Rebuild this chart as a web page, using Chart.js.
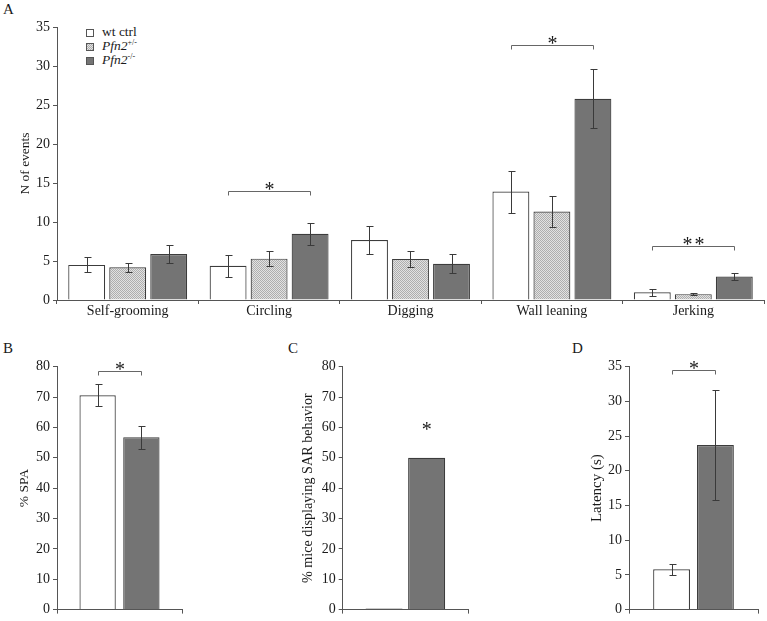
<!DOCTYPE html>
<html>
<head>
<meta charset="utf-8">
<script src="https://cdn.jsdelivr.net/npm/chart.js@4"></script>
<style>
  body { margin: 0; background: #fff; width: 767px; height: 621px; position: relative; overflow: hidden;
         font-family: "Liberation Serif", "Times New Roman", serif; color: #1a1a1a; }
  canvas { position: absolute; }
  .panel { position: absolute; font-size: 15px; line-height: 15px; }
  #legend { position: absolute; left: 86px; top: 25px; font-size: 13.5px; line-height: 14px; }
  #legend div { height: 14px; white-space: nowrap; }
  .sw { display: inline-block; width: 6px; height: 6px; border: 1px solid #555; margin-right: 8px; vertical-align: -1px; }
  sup { font-size: 8px; vertical-align: 5px; line-height: 0; }
</style>
</head>
<body>
<div class="panel" style="left:3px;top:2px">A</div>
<div class="panel" style="left:3px;top:341px">B</div>
<div class="panel" style="left:288px;top:341px">C</div>
<div class="panel" style="left:572px;top:341px">D</div>
<div id="legend">
  <div><span class="sw" style="background:#fff"></span>wt ctrl</div>
  <div><span class="sw" id="swHet"></span><i>Pfn2</i><sup>+/-</sup></div>
  <div><span class="sw" style="background:#747474"></span><i>Pfn2</i><sup>-/-</sup></div>
</div>
<canvas id="chartA" width="767" height="322" style="left:0;top:0"></canvas>
<canvas id="chartB" width="250" height="299" style="left:0;top:322px"></canvas>
<canvas id="chartC" width="260" height="299" style="left:250px;top:322px"></canvas>
<canvas id="chartD" width="257" height="299" style="left:510px;top:322px"></canvas>
<script>
// ---- datos ----
const behaviours = ['Self-grooming', 'Circling', 'Digging', 'Wall leaning', 'Jerking'];
const wtEvents    = [4.5, 4.4, 7.7, 13.9, 1.0];
const wtEventsSem = [0.95, 1.4, 1.75, 2.7, 0.45];
const hetEvents    = [4.2, 5.3, 5.25, 11.35, 0.75];
const hetEventsSem = [0.6, 1.0, 1.0, 2.0, 0.15];
const koEvents    = [5.9, 8.5, 4.65, 25.8, 3.0];
const koEventsSem = [1.1, 1.4, 1.25, 3.8, 0.4];

const spaValues = [70.6, 56.8];     // wt, ko
const spaSem    = [3.7, 3.75];
const sarValues = [0.4, 50];        // wt, ko
const latencyValues = [5.8, 23.7];  // wt, ko
const latencySem    = [0.75, 7.95];

const FONT = "'Liberation Serif', 'Times New Roman', serif";
const INK = '#1a1a1a';
const AXIS = '#555';
const EDGE = '#3c3c3c';
const DARK = '#747474';

// patrón gris cuadriculado para Pfn2+/-
function makePattern() {
  const c = document.createElement('canvas');
  c.width = 2; c.height = 2;
  const g = c.getContext('2d');
  g.fillStyle = '#e2e2e2'; g.fillRect(0, 0, 2, 2);
  g.fillStyle = '#aeaeae'; g.fillRect(0, 0, 1, 1); g.fillRect(1, 1, 1, 1);
  return c;
}
const patCanvas = makePattern();
const HET = patCanvas.getContext('2d').createPattern(patCanvas, 'repeat');
document.getElementById('swHet').style.background = `url(${patCanvas.toDataURL()})`;

// barras de error, corchetes y asteriscos
function makeMarks(errs, brackets, stars) {
  return {
    id: 'marks',
    afterDatasetsDraw(chart) {
      const ctx = chart.ctx, ys = chart.scales.y;
      ctx.save();
      ctx.strokeStyle = '#3a3a3a';
      ctx.lineWidth = 1;
      errs.forEach((sem, di) => {
        if (!sem) return;
        const vals = chart.data.datasets[di].data;
        chart.getDatasetMeta(di).data.forEach((bar, i) => {
          const x = Math.round(bar.x) + 0.5;
          const y1 = Math.round(ys.getPixelForValue(vals[i] - sem[i])) + 0.5;
          const y2 = Math.round(ys.getPixelForValue(vals[i] + sem[i])) + 0.5;
          ctx.beginPath();
          ctx.moveTo(x, y1); ctx.lineTo(x, y2);
          ctx.moveTo(x - 3, y1); ctx.lineTo(x + 4, y1);
          ctx.moveTo(x - 3, y2); ctx.lineTo(x + 4, y2);
          ctx.stroke();
        });
      });
      ctx.fillStyle = INK;
      ctx.textAlign = 'center';
      ctx.textBaseline = 'alphabetic';
      ctx.font = `20px ${FONT}`;
      ctx.strokeStyle = '#666';
      brackets.forEach(b => {
        const x1 = Math.round(chart.getDatasetMeta(b.from).data[b.cat].x) + 0.5;
        const x2 = Math.round(chart.getDatasetMeta(b.to).data[b.cat].x) + 0.5;
        const y = Math.round(ys.getPixelForValue(b.at)) + 0.5;
        ctx.beginPath();
        ctx.moveTo(x1, y + 4); ctx.lineTo(x1, y); ctx.lineTo(x2, y); ctx.lineTo(x2, y + 4);
        ctx.stroke();
        ctx.letterSpacing = b.text.length > 1 ? '2px' : '0px';
        ctx.fillText(b.text, (x1 + x2) / 2 + (b.text.length > 1 ? 1 : 0), y + 4);
      });
      stars.forEach(s => {
        const x = chart.getDatasetMeta(s.ds).data[s.cat].x;
        ctx.letterSpacing = '0px';
        ctx.fillText(s.text, x, ys.getPixelForValue(s.at) + 4);
      });
      ctx.restore();
    }
  };
}

function yAxis(max, step, title, width, titleSize) {
  return {
    min: 0, max: max,
    ticks: { stepSize: step, color: INK, padding: 3, font: { family: FONT, size: 14 } },
    grid: { display: true, drawOnChartArea: false, drawTicks: true, tickLength: 4, color: AXIS },
    border: { color: AXIS, width: 1 },
    title: { display: true, text: title, color: INK, padding: 0, font: { family: FONT, size: titleSize || 13.5 } },
    afterFit: s => { s.width = width; }
  };
}

function xAxis(showLabels, height) {
  return {
    ticks: { display: showLabels, color: INK, padding: -1, maxRotation: 0, font: { family: FONT, size: 14 } },
    grid: { display: true, drawOnChartArea: false, drawTicks: true, tickLength: 4, color: AXIS, offset: true },
    border: { color: AXIS, width: 1 },
    afterFit: s => { s.height = height; }
  };
}

function bars(label, data, bg, catPct, barPct, extra) {
  return Object.assign({ label, data, backgroundColor: bg, borderColor: EDGE, borderWidth: 1.2,
           categoryPercentage: catPct, barPercentage: barPct }, extra || {});
}

function baseOptions(padding, x, y) {
  return {
    responsive: false,
    animation: false,
    layout: { padding },
    plugins: { legend: { display: false }, tooltip: { enabled: false } },
    scales: { x, y }
  };
}

// A) N de eventos por conducta
new Chart(document.getElementById('chartA'), {
  type: 'bar',
  data: {
    labels: behaviours,
    datasets: [
      bars('wt ctrl', wtEvents, '#ffffff', 0.87, 0.9),
      bars('Pfn2+/-', hetEvents, HET, 0.87, 0.9),
      bars('Pfn2-/-', koEvents, DARK, 0.87, 0.9)
    ]
  },
  options: baseOptions({ left: 17, top: 27, right: 3, bottom: 0 }, xAxis(true, 22), yAxis(35, 5, 'N of events', 40)),
  plugins: [makeMarks([wtEventsSem, hetEventsSem, koEventsSem],
    [{ cat: 1, from: 0, to: 2, at: 14, text: '*' },
     { cat: 3, from: 0, to: 2, at: 32.7, text: '*' },
     { cat: 4, from: 0, to: 2, at: 6.9, text: '**' }], [])]
});

// B) % SPA
new Chart(document.getElementById('chartB'), {
  type: 'bar',
  data: {
    labels: [''],
    datasets: [bars('wt ctrl', [spaValues[0]], '#ffffff', 0.7, 0.83),
               bars('Pfn2-/-', [spaValues[1]], DARK, 0.7, 0.83)]
  },
  options: baseOptions({ left: 16, top: 44.7, right: 68, bottom: 0 }, xAxis(false, 8), yAxis(80, 10, '% SPA', 41)),
  plugins: [makeMarks([[spaSem[0]], [spaSem[1]]], [{ cat: 0, from: 0, to: 1, at: 78.7, text: '*' }], [])]
});

// C) % ratones con conducta SAR
new Chart(document.getElementById('chartC'), {
  type: 'bar',
  data: {
    labels: [''],
    datasets: [bars('wt ctrl', [sarValues[0]], '#ffffff', 0.68, 0.87, { borderSkipped: false, borderWidth: 1, borderColor: '#333' }),
               bars('Pfn2-/-', [sarValues[1]], DARK, 0.68, 0.87)]
  },
  options: baseOptions({ left: 50, top: 44.7, right: 42, bottom: 0 }, xAxis(false, 8), yAxis(80, 10, '% mice displaying SAR behavior', 42.7, 14.2)),
  plugins: [makeMarks([], [], [{ cat: 0, ds: 1, at: 58.5, text: '*' }])]
});

// D) Latencia
new Chart(document.getElementById('chartD'), {
  type: 'bar',
  data: {
    labels: [''],
    datasets: [bars('wt ctrl', [latencyValues[0]], '#ffffff', 0.68, 0.84),
               bars('Pfn2-/-', [latencyValues[1]], DARK, 0.68, 0.84)]
  },
  options: baseOptions({ left: 78, top: 44.7, right: 9, bottom: 0 }, xAxis(false, 8), yAxis(35, 5, 'Latency (s)', 41, 15)),
  plugins: [makeMarks([[latencySem[0]], [latencySem[1]]], [{ cat: 0, from: 0, to: 1, at: 34.5, text: '*' }], [])]
});
</script>
</body>
</html>
